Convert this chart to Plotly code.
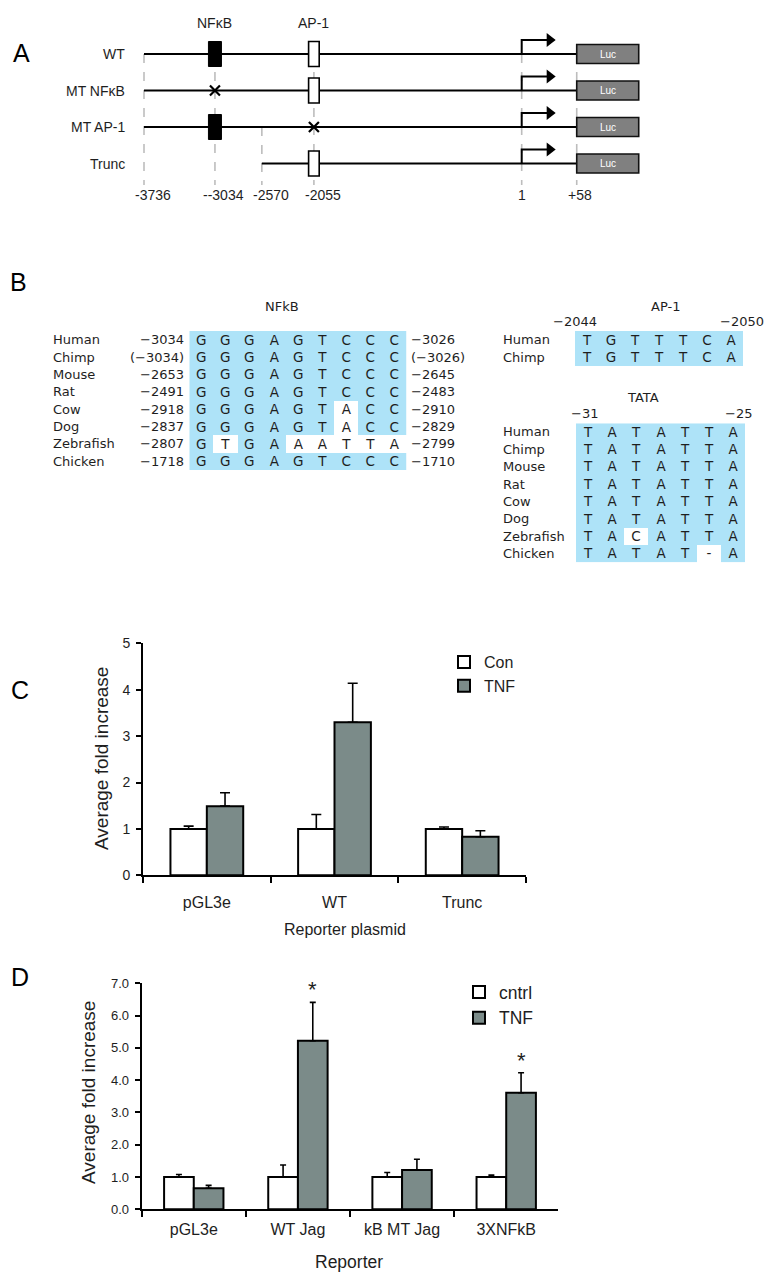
import plotly.graph_objects as go

W, H = 776, 1277

# ---------------- Panel A: promoter constructs ----------------
a_constructs = ["WT", "MT NF\u03baB", "MT AP-1", "Trunc"]
a_start_bp = [-3736, -3736, -3736, -2570]
a_nfkb_state = ["site", "mutated", "site", "absent"]
a_ap1_state = ["site", "site", "mutated", "site"]
a_nfkb_bp = -3034
a_ap1_bp = -2055
a_tss_bp = 1
a_luc_bp = 58
a_landmark_bp = [-3736, -3034, -2570, -2055, 1, 58]
a_landmark_text = ["-3736", "--3034", "-2570", "-2055", "1", "+58"]
a_landmark_first_row = [0, 0, 2, 0, 0, 0]

# ---------------- Panel B: alignments ----------------
b_nfkb_species = ["Human", "Chimp", "Mouse", "Rat", "Cow", "Dog", "Zebrafish", "Chicken"]
b_nfkb_start = ["\u22123034", "(\u22123034)", "\u22122653", "\u22122491", "\u22122918", "\u22122837", "\u22122807", "\u22121718"]
b_nfkb_end = ["\u22123026", "(\u22123026)", "\u22122645", "\u22122483", "\u22122910", "\u22122829", "\u22122799", "\u22121710"]
b_nfkb_seq = ["GGGAGTCCC", "GGGAGTCCC", "GGGAGTCCC", "GGGAGTCCC", "GGGAGTACC", "GGGAGTACC", "GTGAAATTA", "GGGAGTCCC"]

b_ap1_species = ["Human", "Chimp"]
b_ap1_seq = ["TGTTTCA", "TGTTTCA"]
b_ap1_ends = ["\u22122044", "\u22122050"]

b_tata_species = ["Human", "Chimp", "Mouse", "Rat", "Cow", "Dog", "Zebrafish", "Chicken"]
b_tata_seq = ["TATATTA", "TATATTA", "TATATTA", "TATATTA", "TATATTA", "TATATTA", "TACATTA", "TATAT-A"]
b_tata_ends = ["\u221231", "\u221225"]

# ---------------- Panel C ----------------
c_categories = ["pGL3e", "WT", "Trunc"]
c_con = [1.0, 1.0, 1.0]
c_con_err = [0.06, 0.31, 0.04]
c_tnf = [1.49, 3.30, 0.83]
c_tnf_err = [0.29, 0.84, 0.13]

# ---------------- Panel D ----------------
d_categories = ["pGL3e", "WT Jag", "kB MT Jag", "3XNFkB"]
d_cntrl = [1.0, 1.0, 1.0, 1.0]
d_cntrl_err = [0.08, 0.37, 0.14, 0.06]
d_tnf = [0.65, 5.22, 1.22, 3.61]
d_tnf_err = [0.09, 1.19, 0.33, 0.62]
d_signif = [False, True, False, True]

# ---------------- styles ----------------
ARIAL = "Liberation Sans, Arial, sans-serif"
VERD = "DejaVu Sans, Verdana, sans-serif"
TXT = "#1e1e1e"
BLUE = "#AEE3F8"
GREY_BAR = "#7B8B89"


def px_x(px):
    return px / W


def px_y(py):
    return 1 - py / H


fig = go.Figure()
ann = []
shapes = []


def note(**kw):
    kw.setdefault("xanchor", "center")
    kw.setdefault("yanchor", "middle")
    kw.setdefault("showarrow", False)
    ann.append(kw)


# ======== Panel A geometry (schematic scale) ========
PX_PER_BP = 0.10107
EXPAND = 9.55            # region downstream of TSS drawn expanded
ROW_PX, ROW0_PX = 36.5, 54.0


def disp(bp):
    return bp if bp <= 1 else 1 + (bp - 1) * EXPAND


a_xr = [disp(-3736) - 144 / PX_PER_BP, disp(-3736) + (W - 144) / PX_PER_BP]
a_yr = [(210 - ROW0_PX) / ROW_PX, -ROW0_PX / ROW_PX]
BOX_HALF_H = 12.5 / ROW_PX
LUC_HALF_H = 9.5 / ROW_PX
NFKB_HALF_W = 6.5 / PX_PER_BP
AP1_HALF_W = 5.3 / PX_PER_BP
LUC_W = 62 / PX_PER_BP
ARROW_RISE = 14 / ROW_PX
ARROW_LEN = 28 / PX_PER_BP
DASH_BOTTOM = (185 - ROW0_PX) / ROW_PX
LABEL_ROW = (195 - ROW0_PX) / ROW_PX
TOP_ROW = (23 - ROW0_PX) / ROW_PX

# dashed guide lines
for bp, r0 in zip(a_landmark_bp, a_landmark_first_row):
    fig.add_trace(go.Scatter(x=[disp(bp), disp(bp)], y=[r0, DASH_BOTTOM], mode="lines",
                             line=dict(color="#BDBDBD", width=1.6, dash="dash"),
                             xaxis="x3", yaxis="y3", showlegend=False, hoverinfo="skip"))
for bp, txt in zip(a_landmark_bp, a_landmark_text):
    shift = 9 if txt.startswith("-") else (3 if txt.startswith("+") else 0)
    note(x=disp(bp), y=LABEL_ROW, xref="x3", yref="y3", text=txt,
         xshift=shift, font=dict(family=ARIAL, size=14, color=TXT))

for i, name in enumerate(a_constructs):
    fig.add_trace(go.Scatter(x=[disp(a_start_bp[i]), disp(a_luc_bp)], y=[i, i], mode="lines",
                             line=dict(color="black", width=2), xaxis="x3", yaxis="y3",
                             showlegend=False, hoverinfo="skip"))
    note(x=px_x(127), y=i, xref="paper", yref="y3", text=name,
         xanchor="right", font=dict(family=ARIAL, size=14, color=TXT))
    if a_nfkb_state[i] == "site":
        shapes.append(dict(type="rect", xref="x3", yref="y3",
                           x0=disp(a_nfkb_bp) - NFKB_HALF_W, x1=disp(a_nfkb_bp) + NFKB_HALF_W,
                           y0=i - BOX_HALF_H, y1=i + BOX_HALF_H,
                           fillcolor="black", line=dict(color="black", width=1)))
    if a_ap1_state[i] == "site":
        shapes.append(dict(type="rect", xref="x3", yref="y3",
                           x0=disp(a_ap1_bp) - AP1_HALF_W, x1=disp(a_ap1_bp) + AP1_HALF_W,
                           y0=i - BOX_HALF_H, y1=i + BOX_HALF_H,
                           fillcolor="white", line=dict(color="black", width=1.6)))
    shapes.append(dict(type="rect", xref="x3", yref="y3",
                       x0=disp(a_luc_bp), x1=disp(a_luc_bp) + LUC_W,
                       y0=i - LUC_HALF_H, y1=i + LUC_HALF_H,
                       fillcolor="#808080", line=dict(color="#111111", width=1.6)))
    note(x=disp(a_luc_bp) + LUC_W / 2, y=i, xref="x3", yref="y3", text="Luc",
         font=dict(family=ARIAL, size=10, color="white"))
    fig.add_trace(go.Scatter(x=[disp(a_tss_bp), disp(a_tss_bp), disp(a_tss_bp) + ARROW_LEN],
                             y=[i, i - ARROW_RISE, i - ARROW_RISE], mode="lines",
                             line=dict(color="black", width=2), xaxis="x3", yaxis="y3",
                             showlegend=False, hoverinfo="skip"))
    fig.add_trace(go.Scatter(x=[disp(a_tss_bp) + ARROW_LEN], y=[i - ARROW_RISE], mode="markers",
                             marker=dict(symbol="triangle-right", size=12, color="black"),
                             xaxis="x3", yaxis="y3", showlegend=False, hoverinfo="skip"))

mx, my = [], []
for i in range(len(a_constructs)):
    if a_nfkb_state[i] == "mutated":
        mx.append(disp(a_nfkb_bp)); my.append(i)
    if a_ap1_state[i] == "mutated":
        mx.append(disp(a_ap1_bp)); my.append(i)
fig.add_trace(go.Scatter(x=mx, y=my, mode="markers",
                         marker=dict(symbol="x-thin", size=10, line=dict(color="black", width=2.2)),
                         xaxis="x3", yaxis="y3", showlegend=False, hoverinfo="skip"))

note(x=disp(a_nfkb_bp), y=TOP_ROW, xref="x3", yref="y3", text="NF\u03baB",
     font=dict(family=ARIAL, size=14, color=TXT))
note(x=disp(a_ap1_bp), y=TOP_ROW, xref="x3", yref="y3", text="AP-1",
     font=dict(family=ARIAL, size=14, color=TXT))


# ======== Panel B: alignment heatmaps ========
def align_trace(seqs, xa, ya):
    ref = seqs[0]
    z = [[1 if s[j] == ref[j] else 0 for j in range(len(ref))] for s in seqs]
    txt = [list(s) for s in seqs]
    return go.Heatmap(z=z, x=list(range(len(ref))), y=list(range(len(seqs))), text=txt,
                      texttemplate="%{text}", textfont=dict(family=VERD, size=13.5, color=TXT),
                      colorscale=[[0, "#ffffff"], [1, BLUE]], zmin=0, zmax=1, showscale=False,
                      hoverinfo="skip", xaxis=xa, yaxis=ya)


fig.add_trace(align_trace(b_nfkb_seq, "x4", "y4"))
fig.add_trace(align_trace(b_ap1_seq, "x5", "y5"))
fig.add_trace(align_trace(b_tata_seq, "x6", "y6"))

bfont = dict(family=VERD, size=13, color=TXT)
for i, sp in enumerate(b_nfkb_species):
    note(x=px_x(50.7), y=i, xref="paper", yref="y4", text=sp, xanchor="left", font=bfont)
    note(x=px_x(186), y=i, xref="paper", yref="y4", text=b_nfkb_start[i], xanchor="right", font=bfont)
    note(x=px_x(409), y=i, xref="paper", yref="y4", text=b_nfkb_end[i], xanchor="left", font=bfont)
for i, sp in enumerate(b_ap1_species):
    note(x=px_x(500.7), y=i, xref="paper", yref="y5", text=sp, xanchor="left", font=bfont)
for i, sp in enumerate(b_tata_species):
    note(x=px_x(500.7), y=i, xref="paper", yref="y6", text=sp, xanchor="left", font=bfont)
note(x=-0.5, y=-0.5, xref="x5", yref="y5", text=b_ap1_ends[0], yanchor="bottom", font=bfont)
note(x=6.45, y=-0.5, xref="x5", yref="y5", text=b_ap1_ends[1], yanchor="bottom", font=bfont)
note(x=-0.14, y=-0.5, xref="x6", yref="y6", text=b_tata_ends[0], yanchor="bottom", font=bfont)
note(x=6.21, y=-0.5, xref="x6", yref="y6", text=b_tata_ends[1], yanchor="bottom", font=bfont)
note(x=px_x(282), y=px_y(306.7), xref="paper", yref="paper", text="NFkB", font=bfont)
note(x=px_x(665), y=px_y(306), xref="paper", yref="paper", text="AP-1", font=bfont)
note(x=px_x(643.3), y=px_y(397.3), xref="paper", yref="paper", text="TATA", font=bfont)

# ======== Panel C bars ========
err_style = dict(type="data", symmetric=False, color="black", thickness=1.6)
fig.add_trace(go.Bar(x=c_categories, y=c_con, name="Con", marker=dict(color="white", line=dict(color="black", width=2)),
                     error_y=dict(array=c_con_err, arrayminus=[0] * 3, width=5, **err_style),
                     xaxis="x", yaxis="y", legend="legend"))
fig.add_trace(go.Bar(x=c_categories, y=c_tnf, name="TNF", marker=dict(color=GREY_BAR, line=dict(color="black", width=2)),
                     error_y=dict(array=c_tnf_err, arrayminus=[0] * 3, width=5, **err_style),
                     xaxis="x", yaxis="y", legend="legend"))

# ======== Panel D bars ========
fig.add_trace(go.Bar(x=d_categories, y=d_cntrl, name="cntrl", marker=dict(color="white", line=dict(color="black", width=2)),
                     error_y=dict(array=d_cntrl_err, arrayminus=[0] * 4, width=3, **err_style),
                     xaxis="x2", yaxis="y2", legend="legend2"))
fig.add_trace(go.Bar(x=d_categories, y=d_tnf, name="TNF", marker=dict(color=GREY_BAR, line=dict(color="black", width=2)),
                     error_y=dict(array=d_tnf_err, arrayminus=[0] * 4, width=3, **err_style),
                     xaxis="x2", yaxis="y2", legend="legend2"))
for cat, v, e, s in zip(d_categories, d_tnf, d_tnf_err, d_signif):
    if s:
        note(x=cat, y=v + e, xref="x2", yref="y2", text="*",
             yanchor="bottom", xshift=15, yshift=-2,
             font=dict(family=ARIAL, size=22, color=TXT))

# axis titles for C and D
note(x=px_x(101), y=px_y(759), xref="paper", yref="paper", text="Average fold increase",
     textangle=-90, font=dict(family=ARIAL, size=19, color=TXT))
note(x=px_x(344.5), y=px_y(929), xref="paper", yref="paper", text="Reporter plasmid",
     font=dict(family=ARIAL, size=16, color=TXT))
note(x=px_x(88), y=px_y(1093), xref="paper", yref="paper", text="Average fold increase",
     textangle=-90, font=dict(family=ARIAL, size=19, color=TXT))
note(x=px_x(349), y=px_y(1261.7), xref="paper", yref="paper", text="Reporter",
     font=dict(family=ARIAL, size=17.5, color=TXT))

# panel letters
for letter, (lx, ly) in zip("ABCD", [(21, 53), (18, 282), (20, 690), (20, 977)]):
    note(x=px_x(lx), y=px_y(ly), xref="paper", yref="paper", text=letter,
         font=dict(family=ARIAL, size=25, color="black"))

hidden = dict(visible=False, showgrid=False, zeroline=False)
axis_line = dict(showline=True, linecolor="black", linewidth=2, ticks="outside", tickcolor="black",
                 tickwidth=2, showgrid=False, zeroline=False, automargin=False)

fig.update_layout(
    width=W, height=H, margin=dict(l=0, r=0, t=0, b=0),
    paper_bgcolor="white", plot_bgcolor="rgba(0,0,0,0)",
    barmode="group", bargap=0.43, bargroupgap=0,
    showlegend=True,
    xaxis=dict(domain=[px_x(143), px_x(526)], anchor="y", type="category", tickson="boundaries",
               ticklen=6, ticklabelstandoff=11,
               tickfont=dict(family=ARIAL, size=16, color=TXT), **axis_line),
    yaxis=dict(domain=[px_y(875.3), px_y(643.3)], anchor="x", range=[0, 5], dtick=1, ticklen=5,
               tickfont=dict(family=ARIAL, size=14, color=TXT), ticklabelstandoff=3, **axis_line),
    xaxis2=dict(domain=[px_x(141.7), px_x(558.3)], anchor="y2", type="category", tickson="boundaries",
                ticklen=6, ticklabelstandoff=4,
                tickfont=dict(family=ARIAL, size=16, color=TXT), **axis_line),
    yaxis2=dict(domain=[px_y(1209.3), px_y(983.3)], anchor="x2", range=[0, 7], dtick=1, tickformat=".1f",
                ticklen=5, tickfont=dict(family=ARIAL, size=13, color=TXT), ticklabelstandoff=3, **axis_line),
    xaxis3=dict(domain=[0, 1], anchor="y3", range=a_xr, **hidden),
    yaxis3=dict(domain=[px_y(210), 1], anchor="x3", range=a_yr, **hidden),
    xaxis4=dict(domain=[px_x(189.3), px_x(406.7)], anchor="y4", range=[-0.5, 8.5], **hidden),
    yaxis4=dict(domain=[px_y(470), px_y(331)], anchor="x4", range=[7.5, -0.5], **hidden),
    xaxis5=dict(domain=[px_x(575), px_x(743.3)], anchor="y5", range=[-0.5, 6.5], **hidden),
    yaxis5=dict(domain=[px_y(366), px_y(331)], anchor="x5", range=[1.5, -0.5], **hidden),
    xaxis6=dict(domain=[px_x(576), px_x(745)], anchor="y6", range=[-0.5, 6.5], **hidden),
    yaxis6=dict(domain=[px_y(562.3), px_y(423.3)], anchor="x6", range=[7.5, -0.5], **hidden),
    legend=dict(x=px_x(444), y=px_y(645), xanchor="left", yanchor="top", bgcolor="rgba(0,0,0,0)",
                font=dict(family=ARIAL, size=16, color=TXT), tracegroupgap=0),
    legend2=dict(x=px_x(459), y=px_y(974), xanchor="left", yanchor="top", bgcolor="rgba(0,0,0,0)",
                 font=dict(family=ARIAL, size=17.5, color=TXT), tracegroupgap=0),
    annotations=ann, shapes=shapes,
)

fig.write_html("out.html", config={"displayModeBar": False},
               post_script="document.body.style.margin='0px';")
